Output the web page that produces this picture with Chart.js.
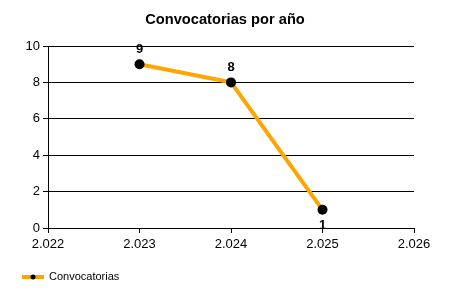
<!DOCTYPE html>
<html>
<head>
<meta charset="utf-8">
<script src="https://cdn.jsdelivr.net/npm/chart.js@4/dist/chart.umd.min.js"></script>
<style>
html,body{margin:0;padding:0;background:#fff;}
#wrap{width:450px;height:300px;position:relative;}
</style>
</head>
<body>
<div id="wrap"><canvas id="c" width="450" height="300"></canvas></div>
<script>
const years = [2023, 2024, 2025];
const convocatorias = [9, 8, 1];
const labelPos = ['above', 'above', 'below'];
const xMin = 2022, xMax = 2026;
const yMin = 0, yMax = 10, yStep = 2;
const seriesName = 'Convocatorias';
const titleText = 'Convocatorias por año';

const FONT = "'Liberation Sans', Arial, sans-serif";

const dataLabels = {
  id: 'dataLabels',
  afterDatasetsDraw(chart) {
    const ctx = chart.ctx;
    const meta = chart.getDatasetMeta(0);
    ctx.save();
    ctx.font = "bold 13px " + FONT;
    ctx.fillStyle = '#000';
    ctx.textAlign = 'center';
    ctx.textBaseline = 'middle';
    meta.data.forEach((pt, i) => {
      const dy = labelPos[i] === 'below' ? 16 : -15;
      ctx.fillText(String(convocatorias[i]), pt.x, pt.y + dy);
    });
    ctx.restore();
  }
};

const customLegend = {
  id: 'customLegend',
  afterDraw(chart) {
    const ctx = chart.ctx;
    const y = 277;
    ctx.save();
    ctx.strokeStyle = '#FFA500';
    ctx.lineWidth = 4;
    ctx.beginPath();
    ctx.moveTo(22, y);
    ctx.lineTo(44, y);
    ctx.stroke();
    ctx.fillStyle = '#000';
    ctx.beginPath();
    ctx.arc(33, y, 2.5, 0, Math.PI * 2);
    ctx.fill();
    ctx.font = "11px " + FONT;
    ctx.textAlign = 'left';
    ctx.textBaseline = 'middle';
    ctx.fillText(seriesName, 49, y);
    ctx.restore();
  }
};

new Chart(document.getElementById('c'), {
  type: 'line',
  data: {
    datasets: [{
      label: seriesName,
      data: years.map((x, i) => ({x: x, y: convocatorias[i]})),
      borderColor: '#FFA500',
      borderWidth: 4,
      pointBackgroundColor: '#000',
      pointBorderColor: '#000',
      pointRadius: 5,
      pointBorderWidth: 0,
      tension: 0,
      fill: false
    }]
  },
  options: {
    responsive: false,
    animation: false,
    devicePixelRatio: 1,
    layout: {padding: 0},
    plugins: {
      legend: {display: false},
      tooltip: {enabled: false},
      title: {
        display: true,
        text: titleText,
        color: '#000',
        font: {family: FONT, size: 14.67, weight: 'bold'},
        padding: {top: 11, bottom: 17.4}
      }
    },
    scales: {
      x: {
        type: 'linear',
        min: xMin, max: xMax,
        afterFit(s) { s.height = 72; },
        border: {display: true, color: '#000', width: 1},
        grid: {drawOnChartArea: false, drawTicks: true, tickLength: 5, color: '#000'},
        ticks: {
          stepSize: 1,
          color: '#000',
          padding: 4,
          maxRotation: 0,
          font: {family: FONT, size: 13},
          callback: v => v.toLocaleString('de-DE')
        }
      },
      y: {
        min: yMin, max: yMax,
        afterFit(s) { s.width = 48; },
        border: {display: true, color: '#000', width: 1},
        grid: {drawOnChartArea: true, drawTicks: true, tickLength: 5, color: '#000'},
        ticks: {
          stepSize: yStep,
          color: '#000',
          padding: 3,
          font: {family: FONT, size: 13}
        }
      },
      yRight: {
        position: 'right',
        min: yMin, max: yMax,
        afterFit(s) { s.width = 36; },
        border: {display: false},
        grid: {display: false},
        ticks: {display: false}
      }
    }
  },
  plugins: [dataLabels, customLegend]
});
</script>
</body>
</html>
